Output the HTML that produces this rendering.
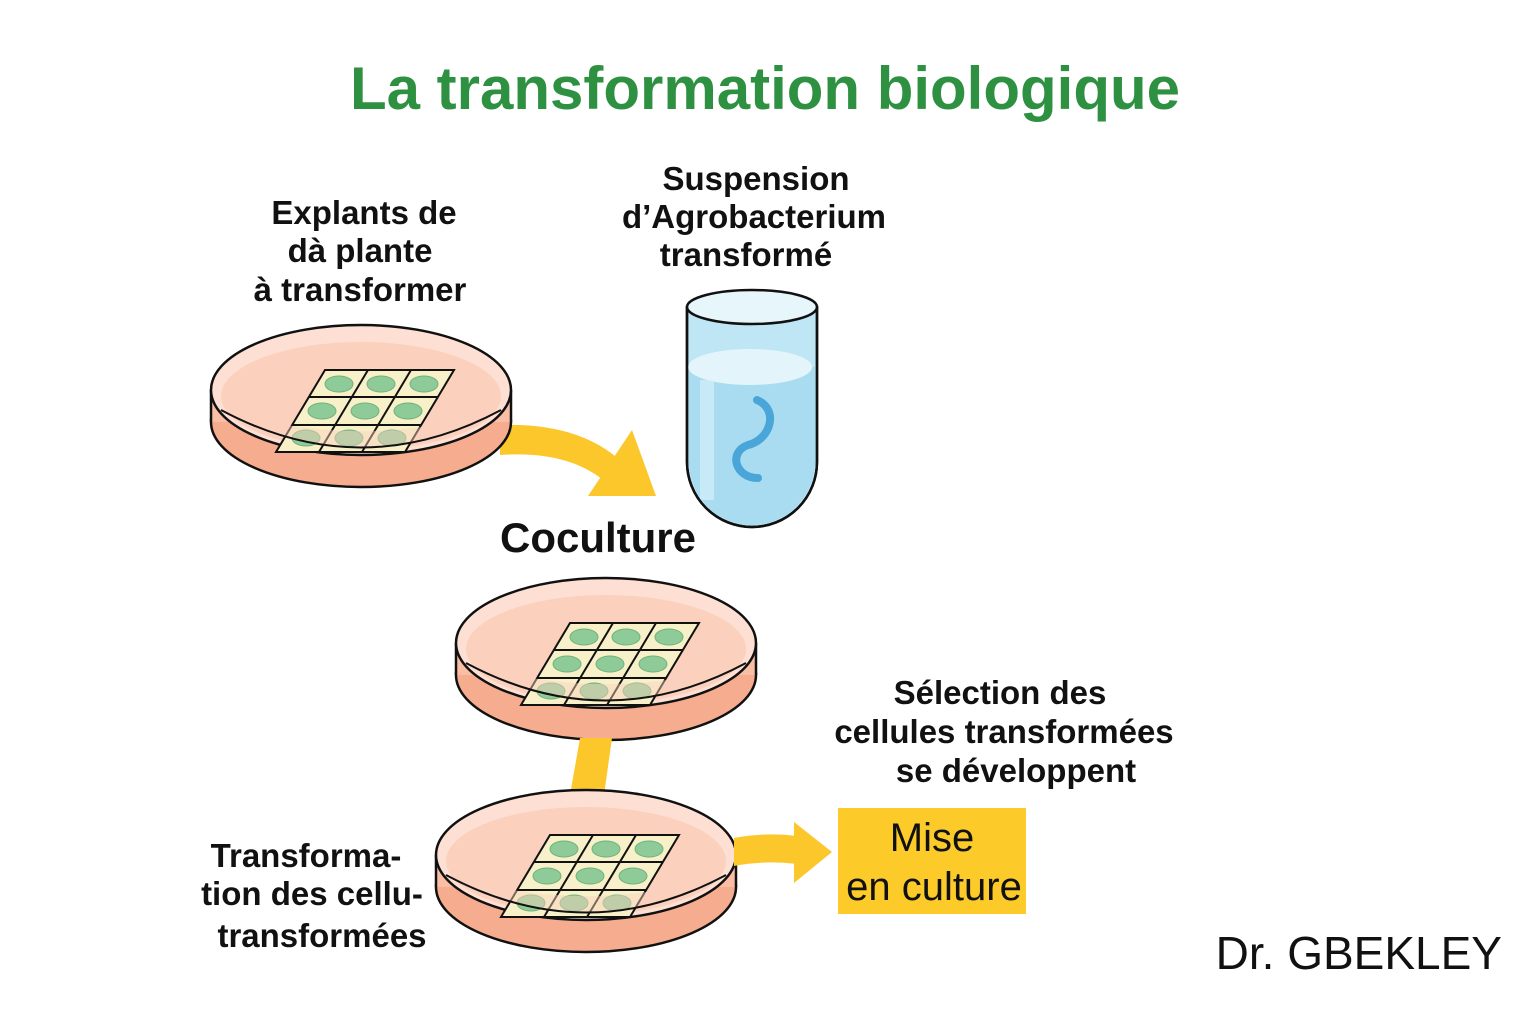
<!DOCTYPE html>
<html><head><meta charset="utf-8"><style>
html,body{margin:0;padding:0;background:#fff}
svg{display:block}
text{font-family:"Liberation Sans",sans-serif;fill:#111}
</style></head><body>
<svg width="1536" height="1024" viewBox="0 0 1536 1024" xmlns="http://www.w3.org/2000/svg">
<defs>
<g id="dish">
  <ellipse cx="0" cy="32" rx="150" ry="65" fill="#f6ad8f" stroke="#111" stroke-width="2.5"/>
  <rect x="-150" y="0" width="300" height="32" fill="#f9bea4"/>
  <line x1="-150" y1="0" x2="-150" y2="32" stroke="#111" stroke-width="2.5"/>
  <line x1="150" y1="0" x2="150" y2="32" stroke="#111" stroke-width="2.5"/>
  <ellipse cx="0" cy="0" rx="150" ry="65" fill="#fde0d3" stroke="#111" stroke-width="2.5"/>
  <ellipse cx="0" cy="6" rx="140" ry="54" fill="#fbd0bc"/>
  <g stroke="#111" stroke-width="2" fill="#f8f0c8">
    <polygon points="-36,-20 93,-20 44,62 -85,62"/>
  </g>
  <g stroke="#111" stroke-width="2" fill="none">
    <line x1="7" y1="-20" x2="-42" y2="62"/>
    <line x1="50" y1="-20" x2="1" y2="62"/>
    <line x1="-52" y1="7" x2="77" y2="7"/>
    <line x1="-69" y1="35" x2="60" y2="35"/>
  </g>
  <g fill="#8fcb98" stroke="#6fb27c" stroke-width="1">
    <ellipse cx="-22" cy="-6" rx="14" ry="8"/><ellipse cx="20" cy="-6" rx="14" ry="8"/><ellipse cx="63" cy="-6" rx="14" ry="8"/>
    <ellipse cx="-39" cy="21" rx="14" ry="8"/><ellipse cx="4" cy="21" rx="14" ry="8"/><ellipse cx="47" cy="21" rx="14" ry="8"/>
    <ellipse cx="-55" cy="48" rx="14" ry="8"/><ellipse cx="-12" cy="48" rx="14" ry="8"/><ellipse cx="31" cy="48" rx="14" ry="8"/>
  </g>
  <path d="M-140,20 Q0,95 140,20 Q0,62 -140,20 Z" fill="#fbd0bc" fill-opacity="0.45"/>
  <path d="M-140,20 Q0,95 140,20" fill="none" stroke="#111" stroke-width="2"/>
</g>
</defs>

<text x="765" y="109" text-anchor="middle" font-size="60" font-weight="bold" style="fill:#2e9142">La transformation biologique</text>

<g font-size="33" font-weight="bold" text-anchor="middle">
  <text x="364" y="224">Explants de</text>
  <text x="360" y="262">dà plante</text>
  <text x="360" y="301">à transformer</text>
  <text x="756" y="190">Suspension</text>
  <text x="754" y="228">d’Agrobacterium</text>
  <text x="746" y="266">transformé</text>
  <text x="1000" y="704">Sélection des</text>
  <text x="1004" y="743">cellules transformées</text>
  <text x="1016" y="782">se développent</text>
  <text x="306" y="867">Transforma-</text>
  <text x="312" y="905">tion des cellu-</text>
  <text x="322" y="947">transformées</text>
</g>
<text x="598" y="552" text-anchor="middle" font-size="42" font-weight="bold">Coculture</text>

<path d="M500,425 Q585,422 628,468 L608,484 Q570,450 500,455 Z" fill="#fcc72a"/>
<polygon points="588,496 656,496 632,430" fill="#fcc72a"/>

<use href="#dish" x="361" y="390"/>

<path d="M687,307 L687,462 A65,65 0 0 0 817,462 L817,307 Z" fill="#bfe6f4" stroke="#111" stroke-width="2.5"/>
<path d="M689,367 L689,462 A63,63 0 0 0 815,462 L815,367 Z" fill="#a9dcf0"/>
<ellipse cx="750" cy="367" rx="62" ry="18" fill="#e3f5fb"/>
<rect x="700" y="380" width="14" height="120" fill="#d6f0f9" opacity="0.7"/>
<ellipse cx="752" cy="307" rx="65" ry="17" fill="#e6f6fb" stroke="#111" stroke-width="2.5"/>
<path d="M757,400 C780,410 770,440 748,445 C728,452 735,478 758,478" fill="none" stroke="#4aa6d8" stroke-width="8" stroke-linecap="round"/>
<path d="M687,307 L687,462 A65,65 0 0 0 817,462 L817,307" fill="none" stroke="#111" stroke-width="2.5"/>

<use href="#dish" x="606" y="643"/>
<polygon points="580,738 612,738 604,795 570,795" fill="#fcc72a"/>
<use href="#dish" x="586" y="855"/>
<path d="M734,838 Q765,832 797,836 L797,864 Q765,860 734,866 Z" fill="#fcc72a"/>
<polygon points="794,822 832,852 794,883" fill="#fcc72a"/>

<rect x="838" y="808" width="188" height="106" fill="#fccb2a"/>
<text x="932" y="851" text-anchor="middle" font-size="40">Mise</text>
<text x="934" y="900" text-anchor="middle" font-size="40">en culture</text>

<text x="1502" y="969" text-anchor="end" font-size="46">Dr. GBEKLEY</text>
</svg>
</body></html>
